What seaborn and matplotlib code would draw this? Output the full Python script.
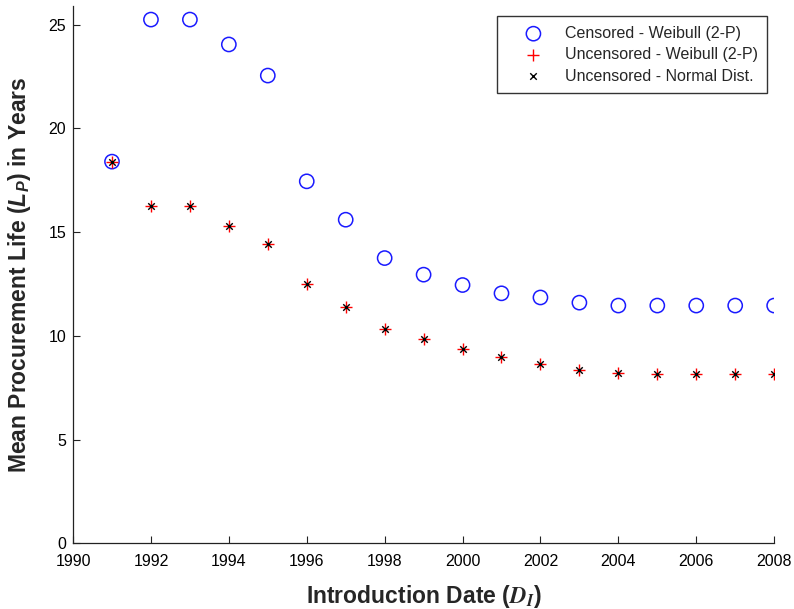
import numpy as np
import pandas as pd
import matplotlib
matplotlib.use("Agg")
import matplotlib.pyplot as plt
import seaborn as sns

years = list(range(1991, 2009))
censored_weibull = [18.4, 25.25, 25.25, 24.05, 22.55, 17.45, 15.6, 13.75, 12.95, 12.45,
                    12.05, 11.85, 11.6, 11.46, 11.46, 11.46, 11.46, 11.46]
uncensored_weibull = [18.4, 16.25, 16.25, 15.3, 14.45, 12.5, 11.4, 10.35, 9.85, 9.38,
                      8.98, 8.65, 8.33, 8.22, 8.14, 8.14, 8.14, 8.14]
uncensored_normal = [18.4, 16.25, 16.25, 15.3, 14.45, 12.5, 11.4, 10.35, 9.85, 9.38,
                     8.98, 8.65, 8.33, 8.22, 8.14, 8.14, 8.14, 8.14]
labels = ["Censored - Weibull (2-P)", "Uncensored - Weibull (2-P)", "Uncensored - Normal Dist."]
xticks = list(range(1990, 2009, 2))
yticks = [0, 5, 10, 15, 20, 25]

sns.set_style("white")
plt.rcParams['font.family'] = ['Liberation Sans', 'DejaVu Sans']
plt.rcParams['mathtext.fontset'] = 'custom'
plt.rcParams['mathtext.rm'] = 'Liberation Sans'
plt.rcParams['mathtext.it'] = 'Liberation Sans:italic'
plt.rcParams['mathtext.bf'] = 'Liberation Sans:bold'
plt.rcParams['mathtext.bfit'] = 'Liberation Sans:bold:italic'

fig = plt.figure(figsize=(7.94, 6.09), dpi=100)
ax = fig.add_axes([0.092, 0.108, 0.883, 0.882])

df = pd.DataFrame({"year": years, "cw": censored_weibull,
                   "uw": uncensored_weibull, "un": uncensored_normal})

sns.scatterplot(data=df, x="year", y="cw", marker="o", s=105, facecolors="none",
                edgecolors="#1a1aff", linewidth=1.1, label=labels[0], ax=ax)
sns.scatterplot(data=df, x="year", y="uw", marker="+", s=85, color="#ff0000",
                linewidth=1.0, label=labels[1], ax=ax)
sns.scatterplot(data=df, x="year", y="un", marker="x", s=22, color="black",
                linewidth=1.0, label=labels[2], ax=ax)

ax.set_xlim(1990, 2008)
ax.set_ylim(0, 25.9)
ax.set_xticks(xticks)
ax.set_yticks(yticks)
ax.tick_params(direction="in", length=5, width=0.8, labelsize=11.5,
               color="#222222", labelcolor="black", bottom=True, left=True)
ax.tick_params(axis="x", pad=8)
ax.tick_params(axis="y", pad=5)
for s in ["top", "right"]:
    ax.spines[s].set_visible(False)
for s in ["left", "bottom"]:
    ax.spines[s].set_color("#222222")
    ax.spines[s].set_linewidth(0.9)

xl = ax.set_xlabel(r"Introduction Date ($\mathbfit{D_I}$)", fontsize=16.5, fontweight="bold", labelpad=10)
xl.set_math_fontfamily("stix")
ax.set_ylabel(r"Mean Procurement Life ($\mathbfit{L_P}$) in Years", fontsize=16.5, fontweight="bold", labelpad=11)

leg = ax.legend(loc="upper right", bbox_to_anchor=(0.990, 0.981), frameon=True, fancybox=False,
                edgecolor="black", fontsize=11.5, borderpad=0.6, labelspacing=0.4,
                handlelength=3.3, handletextpad=0.3, borderaxespad=0)
leg.get_frame().set_linewidth(1.0)

fig.savefig("out.png", dpi=100)
